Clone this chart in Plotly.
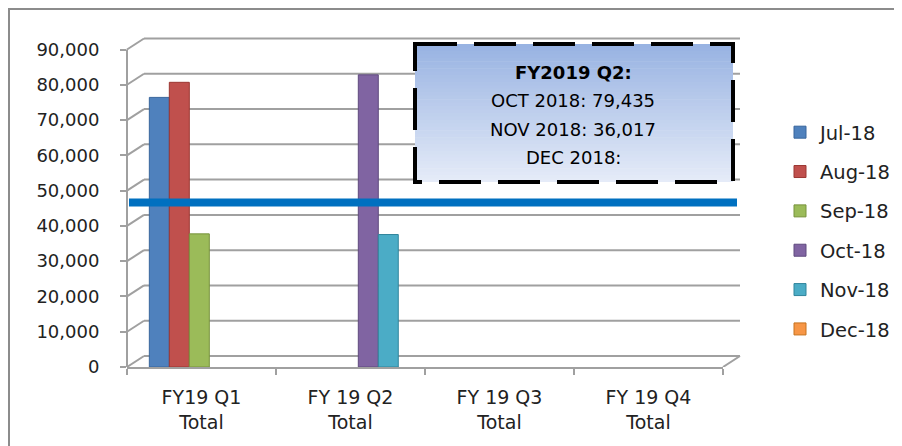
#!/usr/bin/env python3

import plotly.graph_objects as go

quarters = ['FY19 Q1<br>Total', 'FY 19 Q2<br>Total', 'FY 19 Q3<br>Total', 'FY 19 Q4<br>Total']
months = ['Jul-18', 'Aug-18', 'Sep-18', 'Oct-18', 'Nov-18', 'Dec-18']
jul_18 = [73300, None, None, None]
aug_18 = [77400, None, None, None]
sep_18 = [36200, None, None, None]
oct_18 = [None, 79435, None, None]
nov_18 = [None, 36017, None, None]
dec_18 = [None, None, None, None]
target = 46600
y_ticks = [0, 10000, 20000, 30000, 40000, 50000, 60000, 70000, 80000, 90000]
box_lines = ['FY2019 Q2:', 'OCT 2018: 79,435', 'NOV 2018: 36,017', 'DEC 2018:']

colors = ['#4F81BD', '#C0504D', '#9BBB59', '#8064A2', '#4BACC6', '#F79646']
edges = ['#38659c', '#9b3733', '#77933c', '#5f4a7e', '#31859c', '#c6731f']

# page is 902x446, the body margin puts the figure at (8, 8)
OFF = 8
W, H = 902 - OFF, 446 - OFF
# plot area in page pixels
LEFT, RIGHT, TOP, BOTTOM = 127, 740, 30, 367
PW, PH = RIGHT - LEFT, BOTTOM - TOP
FRONT_W = 596          # width of the front floor edge
DX, DY = 17, 11        # 3d depth offset
GRID = '#a0a0a0'
FONT = 'DejaVu Sans'


def px(x):
    return (x - LEFT) / PW


def py(y):
    return (BOTTOM - y) / PH


def wall_shapes():
    shapes = []
    for v in y_ticks:
        # diagonal from the axis to the back wall, then the back wall line
        shapes.append(dict(type='line', layer='below', xref='paper', xsizemode='pixel', xanchor=0,
                           x0=0, x1=DX, yref='y', ysizemode='pixel', yanchor=v, y0=0, y1=DY,
                           line=dict(color=GRID, width=2)))
        shapes.append(dict(type='line', layer='below', xref='paper', xsizemode='pixel', xanchor=0,
                           x0=DX, x1=PW, yref='y', ysizemode='pixel', yanchor=v, y0=DY, y1=DY,
                           line=dict(color=GRID, width=2)))
    shapes.append(dict(type='line', layer='below', xref='paper', x0=0, x1=0,
                       yref='y', y0=0, y1=y_ticks[-1], line=dict(color=GRID, width=2)))
    shapes.append(dict(type='line', layer='below', xref='paper', xsizemode='pixel', xanchor=0,
                       x0=FRONT_W, x1=PW, yref='y', ysizemode='pixel', yanchor=0, y0=0, y1=DY,
                       line=dict(color=GRID, width=2)))
    return shapes


def box_shapes():
    shapes = []
    x0, x1, y0, y1 = 415, 733, 44, 182
    top_c, bot_c = (152, 179, 226), (229, 235, 248)
    steps = 40
    for i in range(steps):
        t = i / (steps - 1)
        c = tuple(round(a + (b - a) * t) for a, b in zip(top_c, bot_c))
        ya = y0 + (y1 - y0) * i / steps
        yb = y0 + (y1 - y0) * (i + 1) / steps + 0.6
        shapes.append(dict(type='rect', layer='above', xref='paper', yref='paper',
                           x0=px(x0), x1=px(x1), y0=py(ya), y1=py(min(yb, y1)),
                           fillcolor='rgb(%d,%d,%d)' % c, line=dict(width=0)))
    shapes.append(dict(type='rect', layer='above', xref='paper', yref='paper',
                       x0=px(x0), x1=px(x1), y0=py(y0), y1=py(y1),
                       line=dict(color='black', width=4, dash='42px,17px')))
    return shapes


def render():
    fig = go.Figure()
    series = [jul_18, aug_18, sep_18, oct_18, nov_18, dec_18]
    for i, (name, vals) in enumerate(zip(months, series)):
        fig.add_trace(go.Bar(x=quarters, y=vals, name=name, xaxis='x2', yaxis='y2',
                             legendgroup=name,
                             marker=dict(color=colors[i], line=dict(color=edges[i], width=1))))

    shapes = wall_shapes()
    shapes.append(dict(type='line', layer='above', xref='paper', xsizemode='pixel', xanchor=0,
                       x0=2, x1=610, yref='y', y0=target, y1=target,
                       line=dict(color='#0070C0', width=8)))
    shapes += box_shapes()
    # chart frame (only top and left edges fall inside the page)
    shapes.append(dict(type='rect', layer='above', xref='paper', yref='paper',
                       x0=px(OFF + 1), x1=px(OFF + W + 20), y0=py(OFF + 1), y1=py(OFF + H + 20),
                       line=dict(color='#8c8c8c', width=2)))

    annotations = []
    for i, line in enumerate(box_lines):
        text = '<b>%s</b>' % line if i == 0 else line
        annotations.append(dict(text=text, xref='paper', yref='paper', x=px(573),
                                y=py(73 + 28 * i), showarrow=False, xanchor='center',
                                yanchor='middle', font=dict(family=FONT, size=18, color='black')))

    fig.update_layout(
        width=W, height=H,
        margin=dict(l=LEFT - OFF, r=OFF + W - RIGHT, t=TOP - OFF, b=OFF + H - BOTTOM),
        paper_bgcolor='white', plot_bgcolor='rgba(0,0,0,0)',
        barmode='group', bargap=0.195, bargroupgap=0,
        showlegend=True,
        legend=dict(xref='container', yref='container', x=(780 - OFF) / W, y=1 - (113 - OFF) / H,
                    xanchor='left', yanchor='top', tracegroupgap=11, maxheight=400,
                    font=dict(family=FONT, size=19.5, color='#222')),
        xaxis=dict(type='category', categoryorder='array', categoryarray=quarters,
                   domain=[0, FRONT_W / PW], range=[-0.5, 3.5], showgrid=False,
                   showline=True, linecolor=GRID, linewidth=2, ticks='outside',
                   tickson='boundaries', ticklen=6, tickcolor=GRID, tickwidth=2,
                   ticklabelstandoff=12,
                   tickfont=dict(family=FONT, size=19, color='#222'), anchor='y'),
        yaxis=dict(range=[0, 90000 * PH / 317.5], tickvals=y_ticks,
                   ticktext=['{:,}'.format(v) for v in y_ticks], showgrid=False,
                   zeroline=False, showline=False, ticks='outside', ticklen=6,
                   tickcolor=GRID, tickwidth=2, ticklabelstandoff=17,
                   tickfont=dict(family=FONT, size=18, color='#222'), anchor='x'),
        xaxis2=dict(type='category', categoryorder='array', categoryarray=quarters,
                    domain=[7.8 / PW, (FRONT_W + 7.8) / PW], range=[-0.5, 3.5],
                    visible=False, anchor='y2'),
        yaxis2=dict(range=[0, PH / 0.003678], domain=[0, 1], visible=False, anchor='x2'),
        shapes=shapes,
        annotations=annotations,
    )

    fig.write_html('out.html')


def main():
    render()


if __name__ == '__main__':
    main()
